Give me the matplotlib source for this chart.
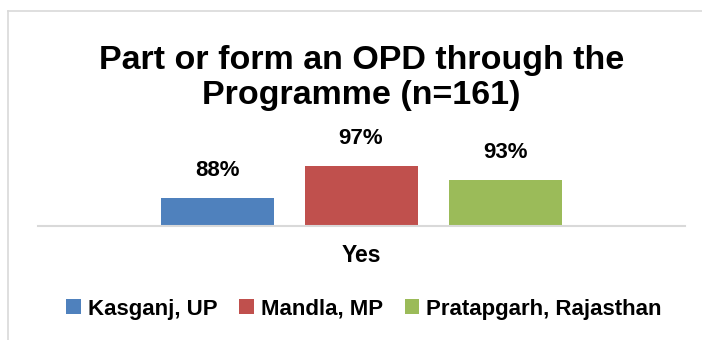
import matplotlib.pyplot as plt
from matplotlib.lines import Line2D
from matplotlib.patches import Patch

category = "Yes"
districts = ["Kasganj, UP", "Mandla, MP", "Pratapgarh, Rajasthan"]
share_yes = [0.88, 0.97, 0.93]
colors = ["#4F81BD", "#C0504D", "#9BBB59"]

plt.rcParams["font.family"] = ["Liberation Sans", "DejaVu Sans"]
plt.rcParams["font.weight"] = "bold"

W, H = 702, 340
fig = plt.figure(figsize=(W / 100, H / 100), dpi=100)

# plot area in pixel coordinates
x0, x1 = 38, 685
y_base, y_top = 226, 155
ax = fig.add_axes([x0 / W, 1 - y_base / H, (x1 - x0) / W, (y_base - y_top) / H])

# bar centres spaced 144 px apart, width 113 px
unit = 144
offsets = [-1, 0, 1]
width = 113 / unit
for off, val, col in zip(offsets, share_yes, colors):
    ax.bar(off, val, width=width, color=col, zorder=2)
    ax.annotate("{:.0%}".format(val), (off, val), xytext=(0, 12),
                textcoords="offset points", ha="center", va="bottom",
                fontsize=16, fontweight="bold", color="#000000")

centre = (361 - x0) / unit
ax.set_xlim(-centre, (x1 - x0) / unit - centre)
ax.set_ylim(0.80, 1.00)
ax.set_yticks([])
ax.set_xticks([])
for side in ["left", "right", "top"]:
    ax.spines[side].set_visible(False)
ax.spines["bottom"].set_color("#d9d9d9")
ax.spines["bottom"].set_linewidth(1.5)
ax.patch.set_alpha(0)

fig.text(361 / W, 1 - 256 / H, category, ha="center", va="center",
         fontsize=16.5, fontweight="bold")

fig.text(361.5 / W, 1 - 78 / H, "Part or form an OPD through the\nProgramme (n=161)",
         ha="center", va="center", fontsize=24.5, fontweight="bold",
         linespacing=1.18)

handles = [Patch(facecolor=c, edgecolor="none") for c in colors]
fig.legend(handles, districts, loc="center", ncol=3,
           bbox_to_anchor=(364 / W, 1 - 309 / H), frameon=False,
           fontsize=16, handlelength=0.65, handleheight=0.65,
           handletextpad=0.3, columnspacing=1.0, borderaxespad=0)

# light chart border along the left and top edges
fig.add_artist(Line2D([7.5 / W, 7.5 / W], [0, 1 - 11 / H], color="#d9d9d9",
                      lw=1.2, transform=fig.transFigure))
fig.add_artist(Line2D([7.5 / W, 1], [1 - 11 / H, 1 - 11 / H], color="#d9d9d9",
                      lw=1.2, transform=fig.transFigure))

fig.savefig("out.png", dpi=100)
